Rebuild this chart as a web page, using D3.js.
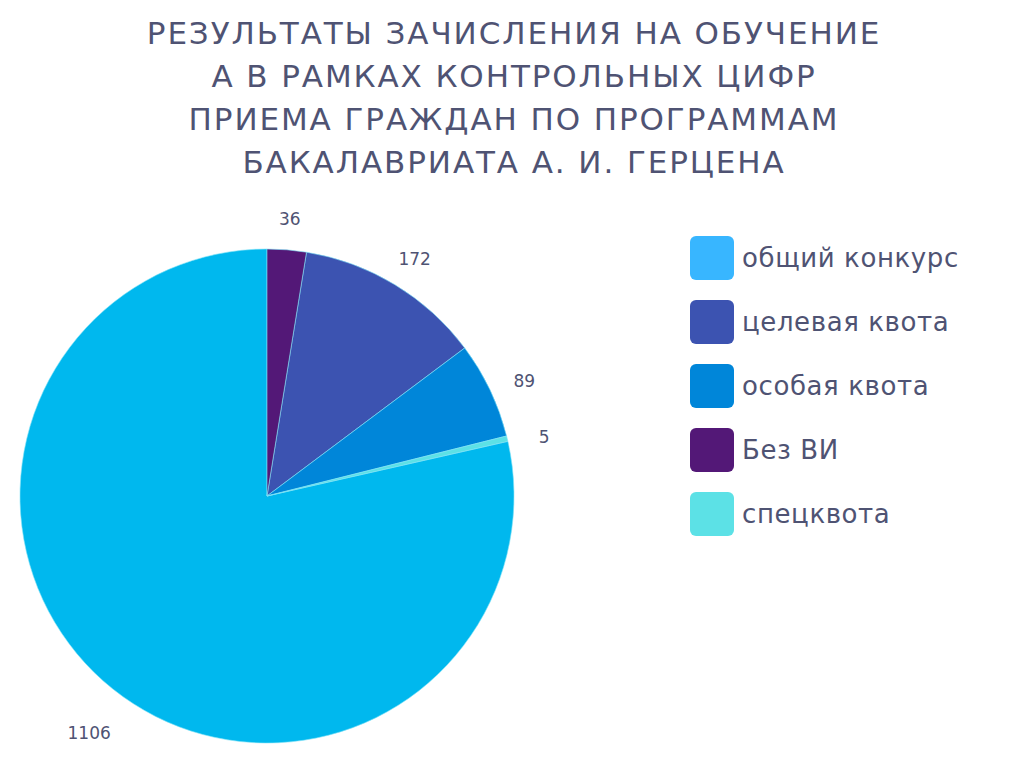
<!DOCTYPE html>
<html>
<head>
<meta charset="utf-8">
<script src="https://cdn.jsdelivr.net/npm/d3@7"></script>
<style>
  body { margin: 0; background: #fff; }
  svg { display: block; }
</style>
</head>
<body>
<svg width="1024" height="768"></svg>
<script>
const titleLines = [
  "РЕЗУЛЬТАТЫ ЗАЧИСЛЕНИЯ НА ОБУЧЕНИЕ",
  "А В РАМКАХ КОНТРОЛЬНЫХ ЦИФР",
  "ПРИЕМА ГРАЖДАН ПО ПРОГРАММАМ",
  "БАКАЛАВРИАТА А. И. ГЕРЦЕНА"
];

// legend order
const categories = ["общий конкурс", "целевая квота", "особая квота", "Без ВИ", "спецквота"];
const values = [1106, 172, 89, 36, 5];
const legendColors = ["#38b6ff", "#3c53b1", "#0086d9", "#531877", "#5ce1e6"];
const sliceColors = ["#00b8ee", "#3c53b1", "#0086d9", "#531877", "#5ce1e6"];

// drawing order, clockwise from 12 o'clock
const sliceOrder = ["Без ВИ", "целевая квота", "особая квота", "спецквота", "общий конкурс"];

const svg = d3.select("svg");
const font = "'DejaVu Sans', sans-serif";
const textColor = "#4f5373";

svg.append("g")
  .selectAll("text")
  .data(titleLines)
  .enter()
  .append("text")
  .attr("x", 514)
  .attr("y", (d, i) => 44 + i * 43)
  .attr("text-anchor", "middle")
  .attr("font-family", font)
  .attr("font-size", 31)
  .attr("letter-spacing", 1.9)
  .attr("fill", textColor)
  .text(d => d);

const data = categories.map((c, i) => ({ name: c, value: values[i], color: sliceColors[i] }));

const pie = d3.pie()
  .value(d => d.value)
  .sort((a, b) => sliceOrder.indexOf(a.name) - sliceOrder.indexOf(b.name));

const radius = 247;
const arc = d3.arc().innerRadius(0).outerRadius(radius);
const labelArc = d3.arc().innerRadius(285).outerRadius(285);

const pieGroup = svg.append("g")
  .attr("transform", "translate(267,496)");

const arcs = pie(data);

pieGroup.selectAll("path")
  .data(arcs)
  .enter()
  .append("path")
  .attr("d", arc)
  .attr("fill", d => d.data.color)
  .attr("stroke", "#7fe3f7")
  .attr("stroke-width", 0.6);

pieGroup.selectAll("text")
  .data(arcs)
  .enter()
  .append("text")
  .attr("transform", d => `translate(${labelArc.centroid(d)})`)
  .attr("text-anchor", "middle")
  .attr("dy", d => labelArc.centroid(d)[1] > 0 ? 20 : 13)
  .attr("font-family", font)
  .attr("font-size", 17)
  .attr("fill", textColor)
  .text(d => d.data.value);

const legend = svg.append("g")
  .selectAll("g")
  .data(categories)
  .enter()
  .append("g")
  .attr("transform", (d, i) => `translate(690,${236 + i * 64})`);

legend.append("rect")
  .attr("width", 44)
  .attr("height", 44)
  .attr("rx", 6)
  .attr("fill", (d, i) => legendColors[i]);

legend.append("text")
  .attr("x", 52)
  .attr("y", 22)
  .attr("dy", "0.35em")
  .attr("font-family", font)
  .attr("font-size", 26)
  .attr("letter-spacing", 0.6)
  .attr("fill", textColor)
  .text(d => d);
</script>
</body>
</html>
